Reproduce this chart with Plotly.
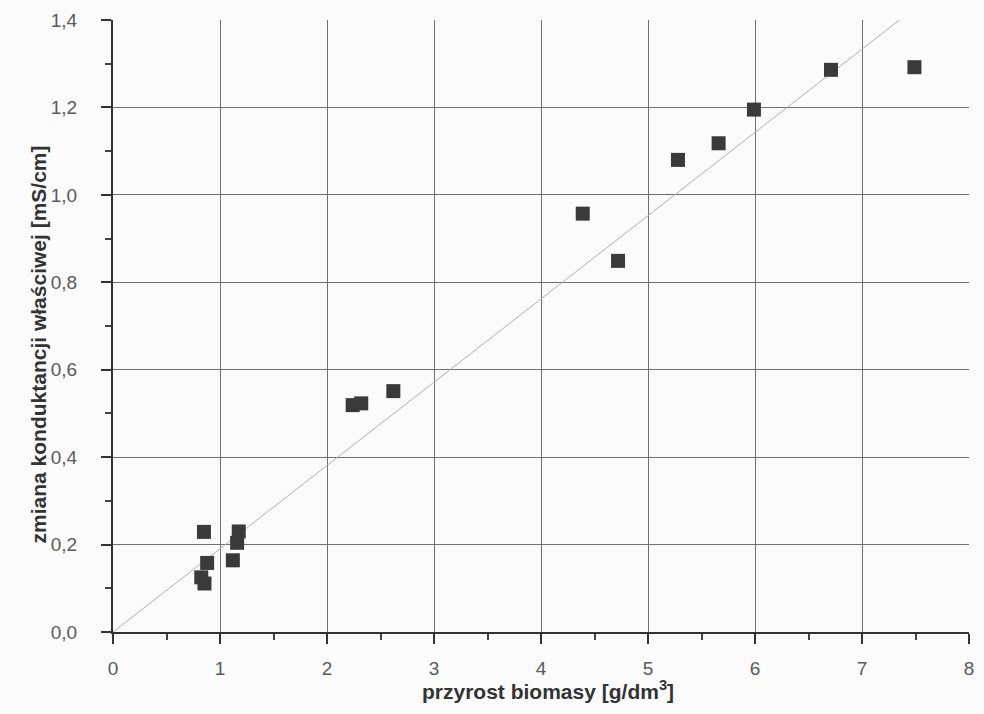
import plotly.graph_objects as go

# data
biomass_x = [0.85, 0.88, 0.825, 0.855, 1.12, 1.16, 1.175, 2.24, 2.32, 2.62,
             4.39, 4.72, 5.28, 5.66, 5.99, 6.71, 7.49]
conduct_y = [0.229, 0.158, 0.125, 0.111, 0.164, 0.204, 0.230, 0.519, 0.523, 0.551,
             0.957, 0.849, 1.080, 1.118, 1.195, 1.286, 1.292]
trend_x = [0, 7.35]
trend_y = [0, 1.4]

x_ticks = [0, 1, 2, 3, 4, 5, 6, 7, 8]
y_ticks = [0.0, 0.2, 0.4, 0.6, 0.8, 1.0, 1.2, 1.4]
y_tick_labels = ["0,0", "0,2", "0,4", "0,6", "0,8", "1,0", "1,2", "1,4"]

x_title = "przyrost biomasy [g/dm<sup>3</sup>]"
y_title = "zmiana konduktancji właściwej [mS/cm]"

fig = go.Figure()
fig.add_trace(go.Scatter(x=trend_x, y=trend_y, mode="lines",
                         line=dict(color="#b0b0b0", width=1), showlegend=False,
                         hoverinfo="skip"))
fig.add_trace(go.Scatter(x=biomass_x, y=conduct_y, mode="markers",
                         marker=dict(symbol="square", size=14, color="#3a3a3a",
                                     line=dict(width=0)),
                         showlegend=False))

font_family = "Liberation Sans, Arial, sans-serif"
title_font = dict(family=font_family, size=21, color="#333333", weight="bold")

fig.update_layout(
    width=984, height=714,
    margin=dict(l=113, r=10, t=20, b=82),
    paper_bgcolor="#fbfbfb", plot_bgcolor="#fbfbfb",
    font=dict(family=font_family, color="#5a5a5a", size=19),
    xaxis=dict(
        range=[0, 8], tickvals=x_ticks, ticktext=[str(v) for v in x_ticks],
        showgrid=True, gridcolor="#707070", gridwidth=1,
        showline=True, linecolor="#333333", linewidth=2,
        ticks="outside", ticklen=10, tickwidth=2, tickcolor="#333333",
        minor=dict(dtick=0.5, ticks="outside", ticklen=6, tickwidth=2,
                   tickcolor="#444444", showgrid=False),
        zeroline=False, ticklabelstandoff=8,
    ),
    yaxis=dict(
        range=[0, 1.4], tickvals=y_ticks, ticktext=y_tick_labels,
        showgrid=True, gridcolor="#707070", gridwidth=1,
        showline=True, linecolor="#333333", linewidth=2,
        ticks="outside", ticklen=10, tickwidth=2, tickcolor="#333333",
        minor=dict(dtick=0.1, ticks="outside", ticklen=6, tickwidth=2,
                   tickcolor="#444444", showgrid=False),
        zeroline=False, ticklabelstandoff=20,
    ),
    annotations=[
        dict(text=x_title, xref="paper", yref="paper", x=0.5083, y=-0.0955,
             xanchor="center", yanchor="middle", showarrow=False, font=title_font),
        dict(text=y_title, xref="paper", yref="paper", x=-0.0875, y=0.47,
             xanchor="center", yanchor="middle", textangle=-90, showarrow=False,
             font=title_font),
    ],
)

fig.write_html("out.html")
